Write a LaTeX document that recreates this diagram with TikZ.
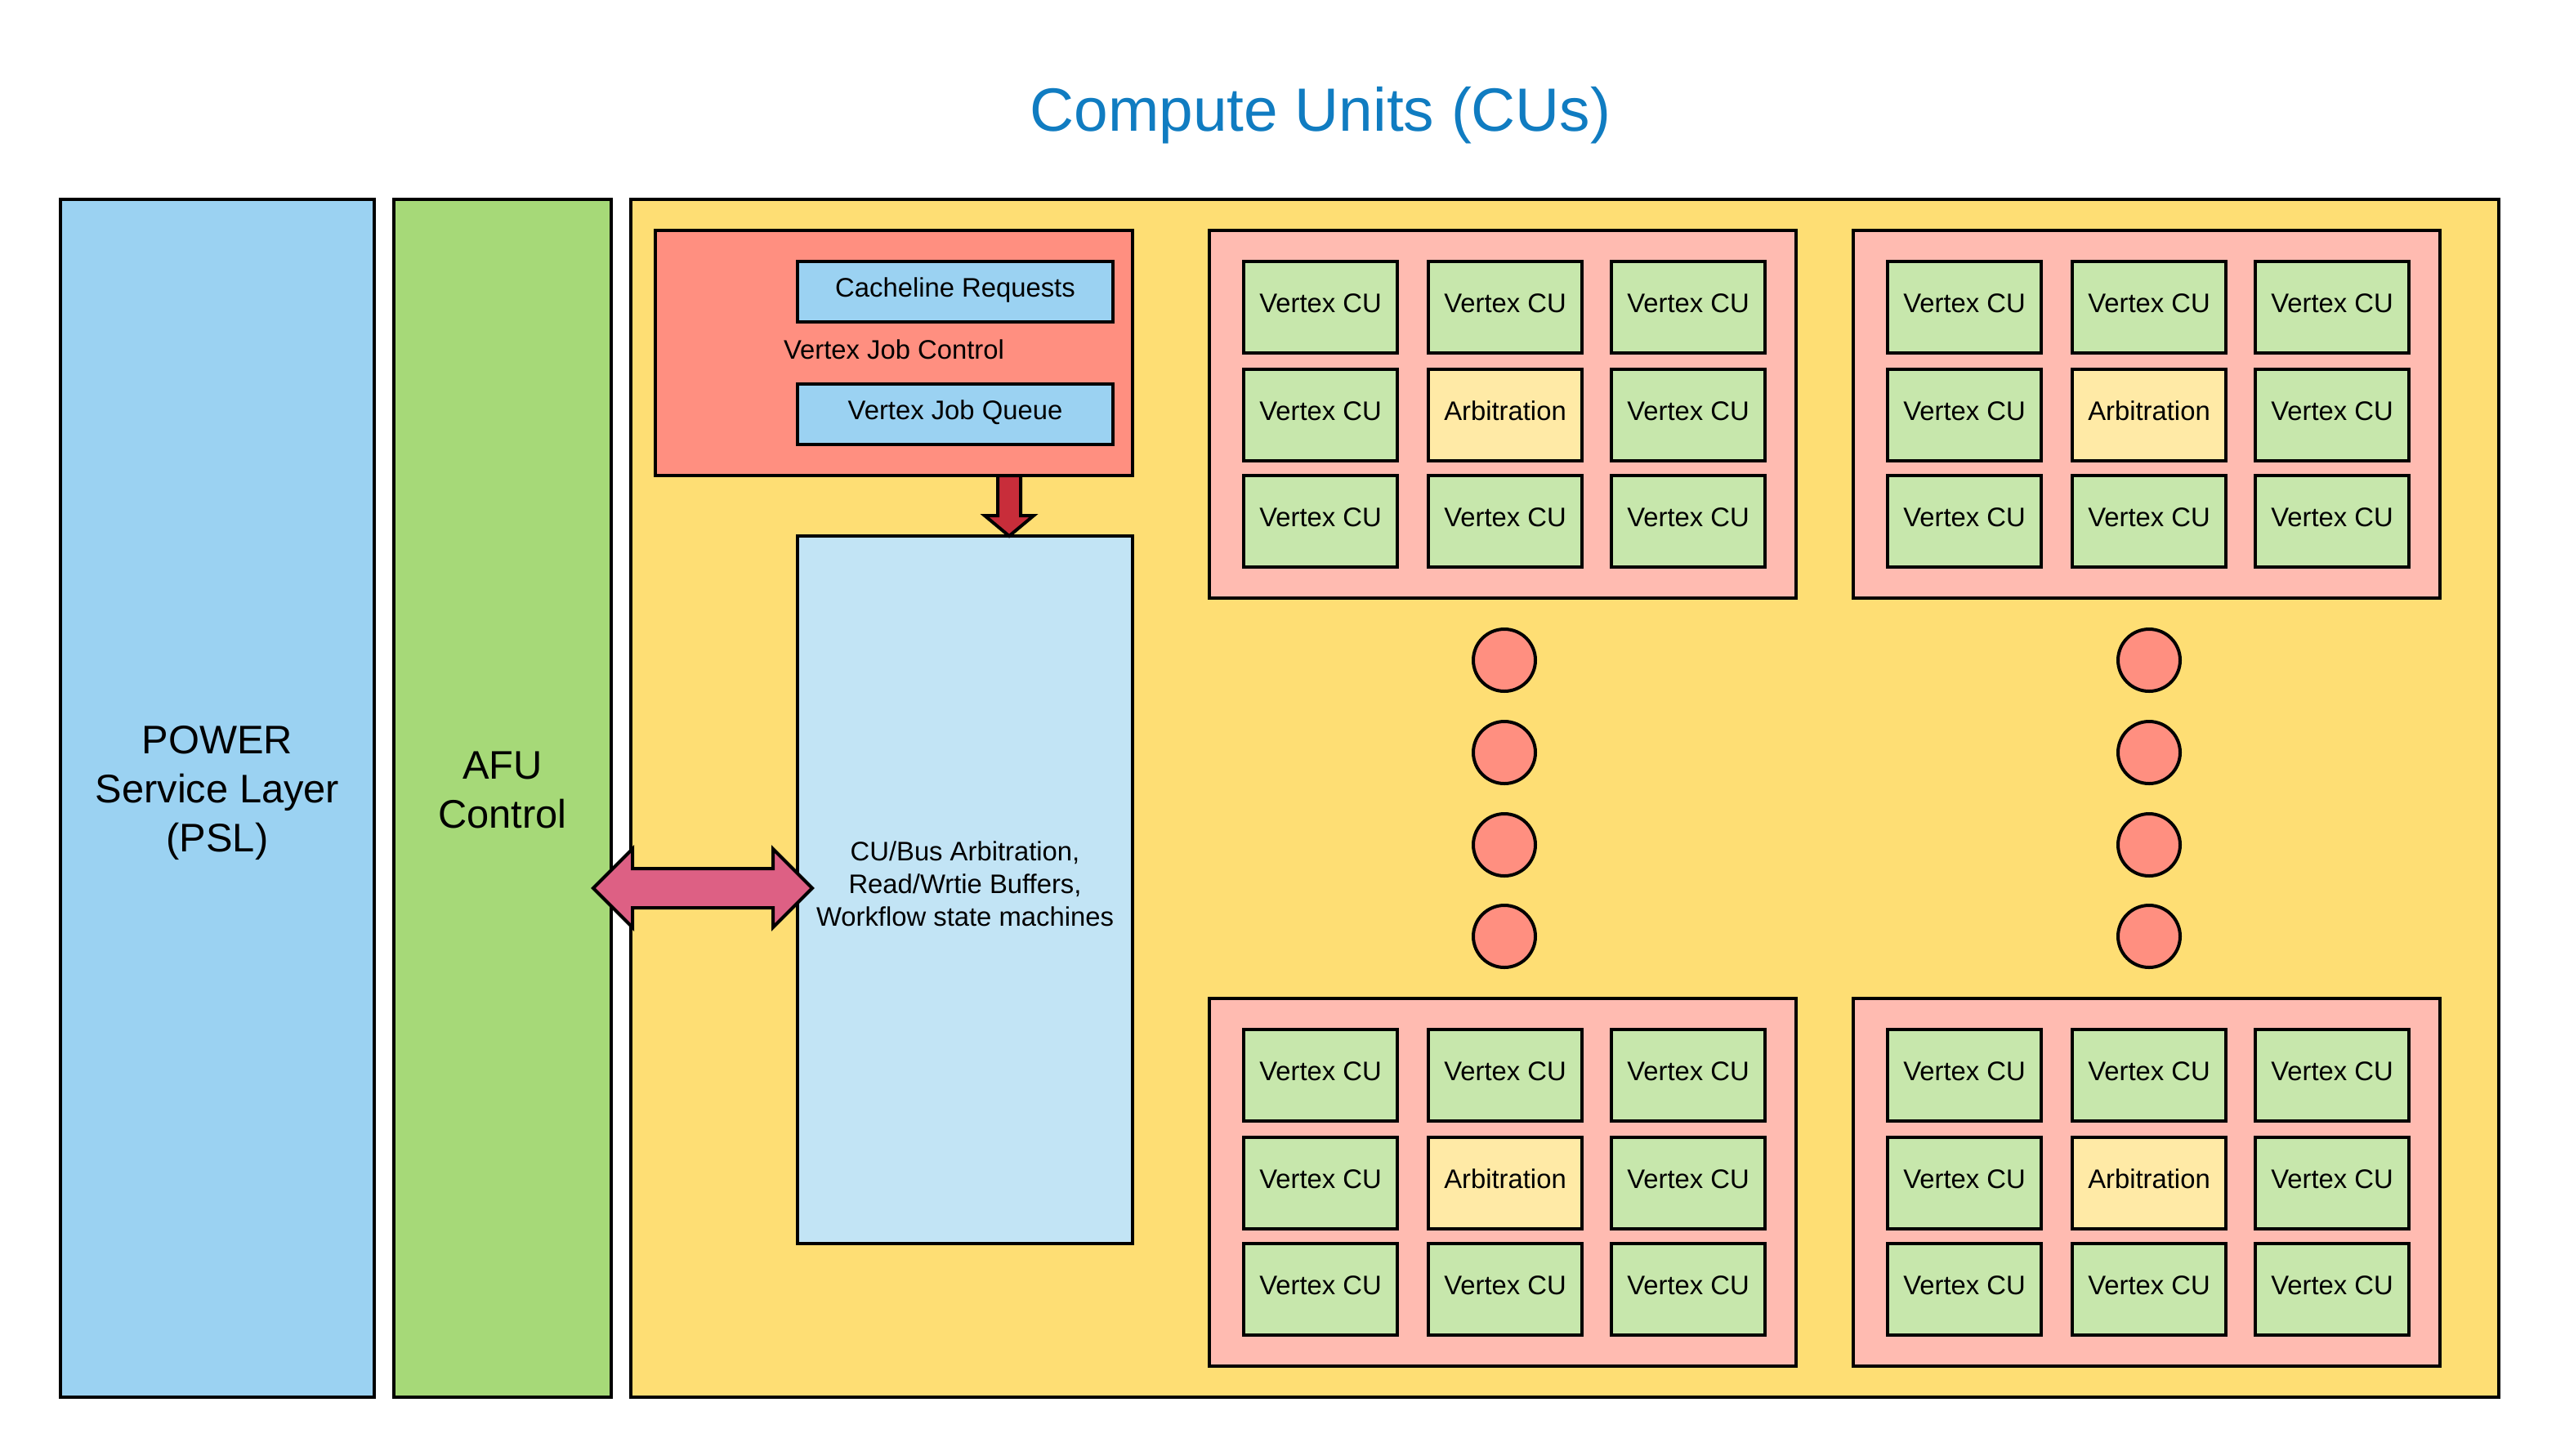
\documentclass[tikz,border=0pt]{standalone}
\usepackage{fontspec}
\setmainfont{Liberation Sans}
\usetikzlibrary{calc}
\definecolor{pslblue}{RGB}{155,210,242}
\definecolor{afugreen}{RGB}{166,217,120}
\definecolor{bigyellow}{RGB}{254,222,116}
\definecolor{vjcred}{RGB}{255,143,128}
\definecolor{clpink}{RGB}{255,187,177}
\definecolor{cugreen}{RGB}{199,231,172}
\definecolor{arbyellow}{RGB}{255,234,166}
\definecolor{lightblue}{RGB}{194,228,245}
\definecolor{downred}{RGB}{200,45,58}
\definecolor{dblpink}{RGB}{221,96,132}
\definecolor{titleblue}{RGB}{16,124,193}
\begin{document}
\begin{tikzpicture}[x=0.5pt,y=-0.5pt,
  box/.style={draw=black, line width=1pt, inner sep=0pt, outer sep=0pt, anchor=north west, align=center},
  smallfont/.style={font=\fontsize{8.2}{10}\selectfont},
  bigfont/.style={font=\fontsize{12.2}{15}\selectfont},
  oneline/.style={smallfont, text height=6pt, text depth=3pt},
  cluster/.style={box, fill=clpink, minimum width=179.5pt, minimum height=112.5pt},
  cell/.style={box, oneline, minimum width=47pt, minimum height=28pt},
  dot/.style={circle, draw=black, line width=1pt, fill=vjcred, minimum size=19pt, inner sep=0pt, outer sep=0pt},
  blockarrow/.style={draw=black, line width=1pt, line join=miter}]
\useasboundingbox (0,0) rectangle (1564,890.5);
\fill[white] (0,0) rectangle (1564,890.5);

\node[anchor=base, text=titleblue, font=\fontsize{18.7}{22}\selectfont] (title) at (808,80) {Compute Units (CUs)};

\node[box, fill=pslblue, bigfont, text depth=5.6pt, minimum width=96pt, minimum height=366.5pt] (psl) at (37,122) {POWER\\Service Layer\\(PSL)};
\node[box, fill=afugreen, bigfont, text depth=5pt, minimum width=66.5pt, minimum height=366.5pt] (afu) at (241,122) {AFU\\Control};
\node[box, fill=bigyellow, minimum width=571.5pt, minimum height=366.5pt] (cu) at (386,122) {};

\node[box, fill=vjcred, oneline, text depth=2.2pt, minimum width=146pt, minimum height=75pt] (vjc) at (401,141) {Vertex Job Control};
\node[box, fill=pslblue, oneline, minimum width=96.5pt, minimum height=18.5pt] (clr) at (488,160) {Cacheline Requests};
\node[box, fill=pslblue, oneline, minimum width=96.5pt, minimum height=18.5pt] (vjq) at (488,235) {Vertex Job Queue};
\node[box, fill=lightblue, smallfont, text depth=3.8pt, minimum width=102.5pt, minimum height=216.5pt] (buf) at (488,328) {CU/Bus Arbitration,\\Read/Wrtie Buffers,\\Workflow state machines};

% down block arrow from job control to buffers
\coordinate (dT) at ($(vjc.south west)+(216.5,0)$);
\coordinate (dB) at (dT |- buf.north);
\filldraw[blockarrow, fill=downred] ($(dT)+(-7,0)$) -- ($(dT)+(7,0)$) -- ($(dB)+(7,-12.5)$) -- ($(dB)+(15,-12.5)$) -- (dB) -- ($(dB)+(-15,-12.5)$) -- ($(dB)+(-7,-12.5)$) -- cycle;

% double block arrow between AFU control and buffers
\coordinate (aL) at ($(afu.east |- buf.west)+(-11,-1)$);
\coordinate (aR) at ($(buf.west)+(9,-1)$);
\filldraw[blockarrow, fill=dblpink] (aL) -- ($(aL)+(24,-24)$) -- ($(aL)+(24,-12)$) -- ($(aR)+(-24,-12)$) -- ($(aR)+(-24,-24)$) -- (aR) -- ($(aR)+(-24,24)$) -- ($(aR)+(-24,12)$) -- ($(aL)+(24,12)$) -- ($(aL)+(24,24)$) -- cycle;

% clusters of compute units
\foreach \k/\cx/\cy in {a/740/141,b/1134/141,c/740/611,d/1134/611} {
  \node[cluster] (cl\k) at (\cx,\cy) {};
  \foreach \rr/\ry in {1/19,2/85,3/150} {
    \foreach \cc/\rx in {1/21,2/134,3/246} {
      \ifnum\numexpr\rr*10+\cc\relax=22
        \def\celltext{Arbitration}\def\cellfill{arbyellow}%
      \else
        \def\celltext{Vertex CU}\def\cellfill{cugreen}%
      \fi
      \node[cell, fill=\cellfill] (cl\k\rr\cc) at ($(cl\k.north west)+(\rx,\ry)$) {\celltext};
    }
  }
}

% ellipsis dots
\foreach \i/\yy in {1/404,2/460.5,3/517,4/573} {
  \node[dot] (dl\i) at (920.5,\yy) {};
  \node[dot] (dr\i) at (1315,\yy) {};
}
\end{tikzpicture}
\end{document}
